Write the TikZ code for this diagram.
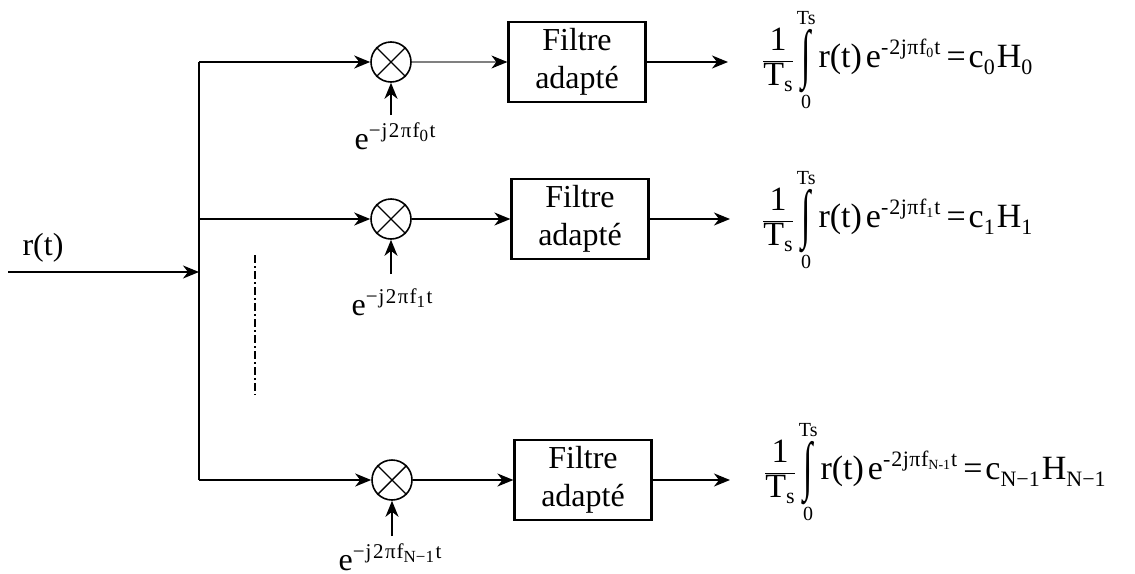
\documentclass[tikz,border=0pt]{standalone}
\usepackage{fontspec}
\setmainfont{Liberation Serif}
\usepackage{graphicx}
\usetikzlibrary{arrows.meta}

\newcommand\fs[1]{\fontsize{#1}{#1}\selectfont}
% local oscillator label e^{-j 2 pi f_k t}
\newcommand\osclabel[1]{e\raisebox{12pt}{\fs{21}−\kern1pt j\kern1.5pt 2\kern1.5pt π\kern1pt f\raisebox{-4pt}{\fs{17}#1}\kern1.5pt t}}
% correlator output: (1/Ts) int_0^Ts r(t) e^{-2j pi f_k t} = c_k H_k
\newcommand\corrEq[2]{%
  $\displaystyle\frac{\mbox{\fs{34}\kern2pt 1\kern2pt}}{\mbox{\fs{34}T\raisebox{-6pt}{\fs{22}s}}}$%
  \kern3pt
  $\mathop{\vcenter{\hbox{\scalebox{1}[1.9]{\fs{34}∫}}}}\limits^{\raisebox{3pt}{\fs{20}Ts}}_{\raisebox{-5pt}{\fs{20}0}}$%
  \kern3pt r(t)\kern4pt e\raisebox{13pt}{\fs{22}-\kern1pt 2\kern0.5pt j\kern0.5pt π\kern0.5pt f\raisebox{-3pt}{\fs{14}#1}\kern1pt t}\kern6pt
  =\kern3pt c\raisebox{-7pt}{\fs{22}#2}\kern2pt H\raisebox{-7pt}{\fs{22}#2}}

\begin{document}
\begin{tikzpicture}[x=1pt,y=-1pt,
  wire/.style={line width=1.9pt},
  sig/.style={wire,-{Stealth[length=16pt,width=13pt,inset=5pt]}},
  mixer/.style={circle,draw,line width=1.6pt,minimum size=40pt,inner sep=0pt},
  filt/.style={draw,line width=2.2pt,minimum width=137pt,minimum height=80pt,
               align=center,inner sep=0pt,font=\fontsize{32}{38}\selectfont},
  lbl/.style={inner sep=0pt,font=\fs{32}},
  eqn/.style={inner sep=0pt,anchor=west,font=\fs{34}}]
\useasboundingbox (0,0) rectangle (1135,573);

% input and distribution bus
\coordinate (in) at (8,272);
\coordinate (j) at (199,272);
\coordinate (b0) at (199,62);
\coordinate (b1) at (199,219);
\coordinate (b2) at (199,480);
\node[lbl] (rt) at (43,248) {r(t)};
\draw[sig] (in) -- (j);
\draw[wire] (b0) -- (b2);

% mixers
\node[mixer] (m0) at (391,62) {};
\node[mixer] (m1) at (391,219) {};
\node[mixer] (m2) at (392,480) {};
\foreach \m in {m0,m1,m2}{
  \draw[line width=1.4pt] (\m.north west) -- (\m.south east)
                          (\m.north east) -- (\m.south west);}

% matched filters
\node[filt] (f0) at (577,62) {Filtre\\adapté};
\node[filt] (f1) at (580,219) {Filtre\\adapté};
\node[filt] (f2) at (583,480) {Filtre\\adapté};

% oscillator inputs
\coordinate (l0) at (391,115);
\coordinate (l1) at (391,274);
\coordinate (l2) at (392,536);
\node[lbl] (e0) at (395,136) {\osclabel{0}};
\node[lbl] (e1) at (392,302) {\osclabel{1}};
\node[lbl,anchor=south] (e2) at (390,571) {\osclabel{N−1}};
\draw[sig] (l0) -- (m0.south);
\draw[sig] (l1) -- (m1.south);
\draw[sig] (l2) -- (m2.south);

% branches
\draw[sig] (b0) -- (m0.west);
\draw[sig] (b1) -- (m1.west);
\draw[sig] (b2) -- (m2.west);
\draw[line width=1.1pt,draw=gray,-{Stealth[length=16pt,width=13pt,inset=5pt,color=black]}] (m0.east) -- (f0.west);
\draw[sig] (m1.east) -- (f1.west);
\draw[sig] (m2.east) -- (f2.west);

% outputs
\coordinate (o0) at (728,62);
\coordinate (o1) at (730,219);
\coordinate (o2) at (730,480);
\draw[sig] (f0.east) -- (o0);
\draw[sig] (f1.east) -- (o1);
\draw[sig] (f2.east) -- (o2);

% correlator results
\node[eqn] (q0) at (762,60) {\corrEq{0}{0}};
\node[eqn] (q1) at (762,220) {\corrEq{1}{1}};
\node[eqn] (q2) at (764,472) {\corrEq{N-1}{N−1}};

% ellipsis between branches
\coordinate (d0) at (255,255);
\coordinate (d1) at (255,395);
\draw[line width=2pt,dash pattern=on 8pt off 3pt on 2pt off 3pt] (d0) -- (d1);
\end{tikzpicture}
\end{document}
